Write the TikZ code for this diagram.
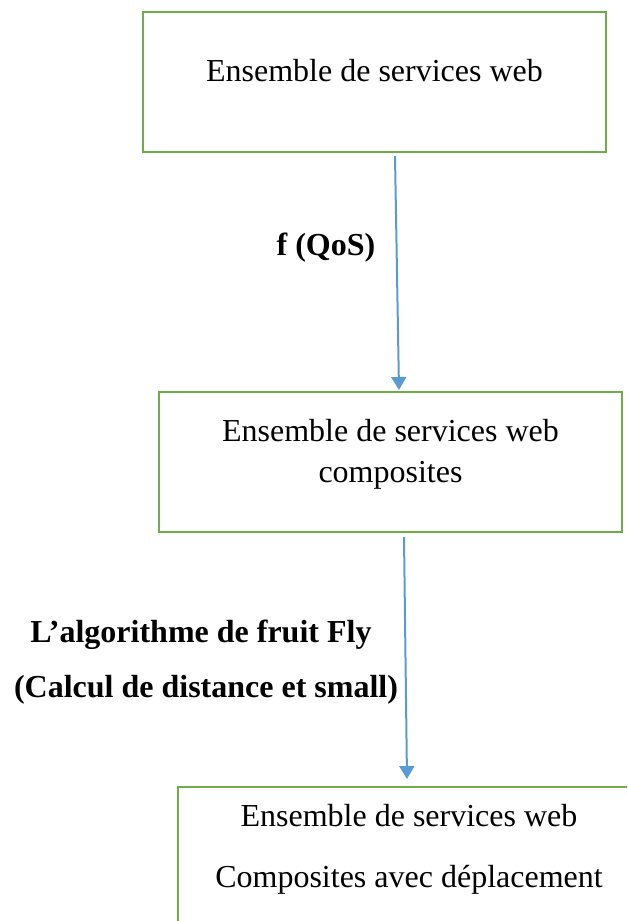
\documentclass[tikz,border=0pt]{standalone}
\usepackage{fontspec}
\setmainfont{Liberation Serif}
\usetikzlibrary{arrows.meta}
\definecolor{boxgreen}{RGB}{112,173,71}
\definecolor{flowblue}{RGB}{91,155,213}
\begin{document}
\begin{tikzpicture}[x=1pt,y=-1pt,
  stagebox/.style={draw=boxgreen,line width=2pt,fill=none,inner sep=0pt,outer sep=0pt,
    minimum width=#1},
  txt/.style={anchor=base,inner sep=0pt,font=\fontsize{32}{38}\selectfont},
  lbl/.style={anchor=base,inner sep=0pt,font=\fontsize{32}{38}\selectfont\bfseries},
  flow/.style={draw=flowblue,line width=2pt,-{Triangle[width=15pt,length=13pt]}}]
\useasboundingbox (0,0) rectangle (627,921);
\clip (0,0) rectangle (627,921);

% boxes
\node[stagebox=463pt,minimum height=140pt] (b1) at (374.5,82) {};
\node[stagebox=463pt,minimum height=140pt] (b2) at (390.5,462) {};
\node[stagebox=462pt,minimum height=200pt] (b3) at (409,887) {};

% box texts
\node[txt] (t1) at (374.5,81) {Ensemble de services web};
\node[txt] (t2a) at (390.5,441) {Ensemble de services web};
\node[txt] (t2b) at (390.5,482) {composites};
\node[txt] (t3a) at (409,826) {Ensemble de services web};
\node[txt] (t3b) at (409,887) {Composites avec déplacement};

% arrow labels
\node[lbl] (l1) at (326,255) {f (QoS)};
\node[lbl] (l2a) at (201,642) {L’algorithme de fruit Fly};
\node[lbl] (l2b) at (206,697) {(Calcul de distance et small)};

% connectors
\draw[flow] ([shift={(20.5,4)}]b1.south) -- ([shift={(8.5,-2)}]b2.north);
\draw[flow] ([shift={(13.5,5)}]b2.south) -- ([shift={(-2,-8)}]b3.north);
\end{tikzpicture}
\end{document}
